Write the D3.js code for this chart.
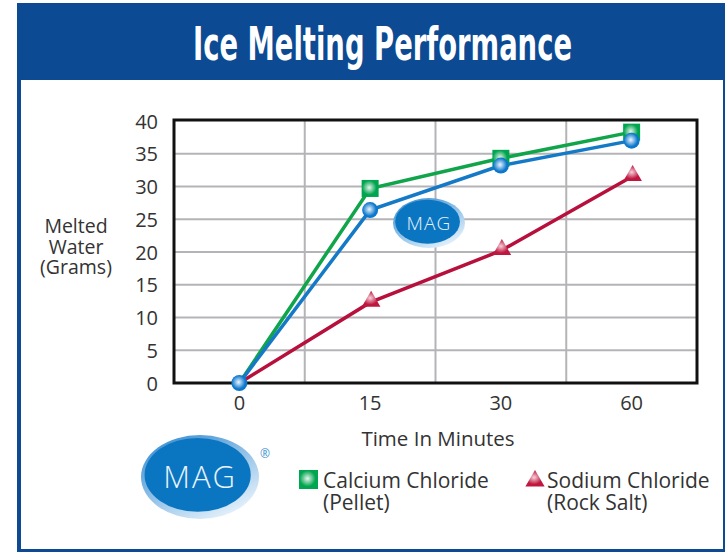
<!DOCTYPE html>
<html>
<head>
<meta charset="utf-8">
<script src="https://cdn.jsdelivr.net/npm/d3@7"></script>
<style>
  body { margin: 0; background: #fff; }
  text { font-family: "Open Sans", "Noto Sans", sans-serif; fill: #333; }
</style>
</head>
<body>
<div id="root"></div>
<script>
const width = 725;
const height = 552;

// Data

const minutes = ['0', '15', '30', '60'];
const yTicks = [0, 5, 10, 15, 20, 25, 30, 35, 40];
const calcium = [0, 29.7, 34.3, 38.3];
const mag = [0, 26.4, 33.2, 37.0];
const sodium = [0, 12.3, 20.2, 31.5];

const green = '#10a54a';
const blue = '#1479c6';
const red = '#b8103c';

// Canvas

const svg = d3
  .select('#root')
  .append('svg')
  .attr('width', width)
  .attr('height', height);

const defs = svg.append('defs');

function glow(id, edge, centre) {
  const g = defs
    .append('radialGradient')
    .attr('id', id)
    .attr('cx', '45%')
    .attr('cy', '45%')
    .attr('r', '60%');
  g.append('stop').attr('offset', '0%').attr('stop-color', centre);
  g.append('stop').attr('offset', '70%').attr('stop-color', edge);
}

glow('gSquare', '#00a54f', '#e6f6ec');
glow('gCircle', '#0c78cc', '#eef6ff');
glow('gTriangle', '#c0173f', '#f6d3dc');

const rim = defs
  .append('linearGradient')
  .attr('id', 'rim')
  .attr('x1', '0%')
  .attr('y1', '0%')
  .attr('x2', '70%')
  .attr('y2', '100%');
rim.append('stop').attr('offset', '0%').attr('stop-color', '#2b86cf');
rim.append('stop').attr('offset', '100%').attr('stop-color', '#e4f1fb');

// Frame and header

svg
  .append('rect')
  .attr('x', 19)
  .attr('y', 5)
  .attr('width', width - 19)
  .attr('height', 546)
  .attr('fill', 'none')
  .attr('stroke', '#0d4a93')
  .attr('stroke-width', 4);

svg
  .append('rect')
  .attr('x', 17)
  .attr('y', 5)
  .attr('width', width - 17)
  .attr('height', 75)
  .attr('fill', '#0c4a93');

svg
  .append('text')
  .attr('x', 382.5)
  .attr('y', 60)
  .attr('text-anchor', 'middle')
  .attr('textLength', 379)
  .attr('lengthAdjust', 'spacingAndGlyphs')
  .style('font-family', '"DejaVu Sans Condensed", "Liberation Sans Narrow", sans-serif')
  .style('font-weight', 'bold')
  .style('font-size', '46px')
  .style('fill', '#fff')
  .text('Ice Melting Performance');

// Scales

const plot = { left: 174, right: 697, top: 121, bottom: 383 };

const x = d3
  .scaleBand()
  .domain(minutes)
  .range([plot.left, plot.right]);

const y = d3
  .scaleLinear()
  .domain([0, 40])
  .range([plot.bottom, plot.top]);

// Grid

const grid = svg.append('g');

grid
  .selectAll('line.h')
  .data(yTicks.slice(1, -1))
  .join('line')
  .attr('x1', plot.left)
  .attr('x2', plot.right)
  .attr('y1', (d) => y(d))
  .attr('y2', (d) => y(d))
  .attr('stroke', '#b4b4b8')
  .attr('stroke-width', 2);

grid
  .selectAll('line.v')
  .data(minutes.slice(1))
  .join('line')
  .attr('x1', (d) => x(d))
  .attr('x2', (d) => x(d))
  .attr('y1', plot.top)
  .attr('y2', plot.bottom)
  .attr('stroke', '#b4b4b8')
  .attr('stroke-width', 2);

svg
  .append('rect')
  .attr('x', plot.left)
  .attr('y', plot.top - 1)
  .attr('width', plot.right - plot.left)
  .attr('height', plot.bottom - plot.top + 1)
  .attr('fill', 'none')
  .attr('stroke', '#111')
  .attr('stroke-width', 3);

// Axes labels

const yAxis = svg
  .append('g')
  .attr('transform', `translate(${plot.left - 16},0)`)
  .call(d3.axisLeft(y).tickValues(yTicks).tickSize(0).tickPadding(0));
yAxis.select('.domain').remove();
yAxis
  .selectAll('text')
  .attr('dy', '0.36em')
  .style('font-size', '20px')
  .style('fill', '#333');

const xAxis = svg
  .append('g')
  .attr('transform', `translate(0,${plot.bottom})`)
  .call(d3.axisBottom(x).tickSize(0).tickPadding(13));
xAxis.select('.domain').remove();
xAxis
  .selectAll('text')
  .attr('dy', '0.71em')
  .style('font-size', '20px')
  .style('fill', '#333');

svg
  .append('text')
  .attr('x', 438)
  .attr('y', 446)
  .attr('text-anchor', 'middle')
  .style('font-size', '20.5px')
  .text('Time In Minutes');

svg
  .append('text')
  .attr('text-anchor', 'middle')
  .style('font-size', '19.5px')
  .selectAll('tspan')
  .data(['Melted', 'Water', '(Grams)'])
  .join('tspan')
  .attr('x', 76)
  .attr('y', (d, i) => 233 + 20.5 * i)
  .text((d) => d);

// Lines

const line = d3
  .line()
  .x((d, i) => x(minutes[i]) + x.bandwidth() / 2)
  .y((d) => y(d));

const series = [
  { values: sodium, color: red },
  { values: calcium, color: green },
  { values: mag, color: blue },
];

svg
  .append('g')
  .selectAll('path')
  .data(series)
  .join('path')
  .attr('d', (d) => line(d.values))
  .attr('fill', 'none')
  .attr('stroke', (d) => d.color)
  .attr('stroke-width', 3.5);

// Markers

const cx = (i) => x(minutes[i]) + x.bandwidth() / 2;

svg
  .append('g')
  .selectAll('path')
  .data(sodium.slice(1))
  .join('path')
  .attr('d', d3.symbol(d3.symbolTriangle, 150))
  .attr('transform', (d, i) => `translate(${cx(i + 1) + 1},${y(d) - 1})`)
  .attr('fill', 'url(#gTriangle)');

svg
  .append('g')
  .selectAll('rect')
  .data(calcium.slice(1))
  .join('rect')
  .attr('x', (d, i) => cx(i + 1) - 8.5)
  .attr('y', (d) => y(d) - 8.5)
  .attr('width', 17)
  .attr('height', 17)
  .attr('fill', 'url(#gSquare)');

svg
  .append('g')
  .selectAll('circle')
  .data(mag)
  .join('circle')
  .attr('cx', (d, i) => cx(i))
  .attr('cy', (d) => y(d))
  .attr('r', 8)
  .attr('fill', 'url(#gCircle)');

// MAG logos

function logo(cxl, cyl, rx, ry, size) {
  const g = svg.append('g').attr('transform', `translate(${cxl},${cyl})`);
  g.append('ellipse')
    .attr('rx', rx)
    .attr('ry', ry)
    .attr('fill', 'url(#rim)');
  g.append('ellipse')
    .attr('cx', -rx * 0.04)
    .attr('cy', -ry * 0.05)
    .attr('rx', rx * 0.9)
    .attr('ry', ry * 0.88)
    .attr('fill', '#0a76c1');
  g.append('text')
    .attr('y', size * 0.36)
    .attr('text-anchor', 'middle')
    .style('font-size', size + 'px')
    .style('font-weight', 300)
    .style('letter-spacing', size * 0.06 + 'px')
    .style('fill', '#e8f3fb')
    .text('MAG');
}

logo(429, 223, 36, 25, 19);
logo(200, 477, 59, 42, 31);

svg
  .append('text')
  .attr('x', 265)
  .attr('y', 458)
  .attr('text-anchor', 'middle')
  .style('font-size', '12px')
  .style('fill', '#3b8fd0')
  .text('®');

// Legend

const legend = [
  { lines: ['Calcium Chloride', '(Pellet)'], x: 323, shape: 'square' },
  { lines: ['Sodium Chloride', '(Rock Salt)'], x: 547, shape: 'triangle' },
];

const item = svg
  .append('g')
  .selectAll('g')
  .data(legend)
  .join('g');

item
  .filter((d) => d.shape === 'square')
  .append('rect')
  .attr('x', 299)
  .attr('y', 470)
  .attr('width', 19)
  .attr('height', 19)
  .attr('fill', 'url(#gSquare)');

item
  .filter((d) => d.shape === 'triangle')
  .append('path')
  .attr('d', d3.symbol(d3.symbolTriangle, 160))
  .attr('transform', 'translate(535,481)')
  .attr('fill', 'url(#gTriangle)');

item
  .append('text')
  .style('font-size', '21px')
  .selectAll('tspan')
  .data((d) => d.lines.map((t) => ({ t, x: d.x })))
  .join('tspan')
  .attr('x', (d) => d.x)
  .attr('y', (d, i) => 488 + 21.5 * i)
  .text((d) => d.t);
</script>
</body>
</html>
